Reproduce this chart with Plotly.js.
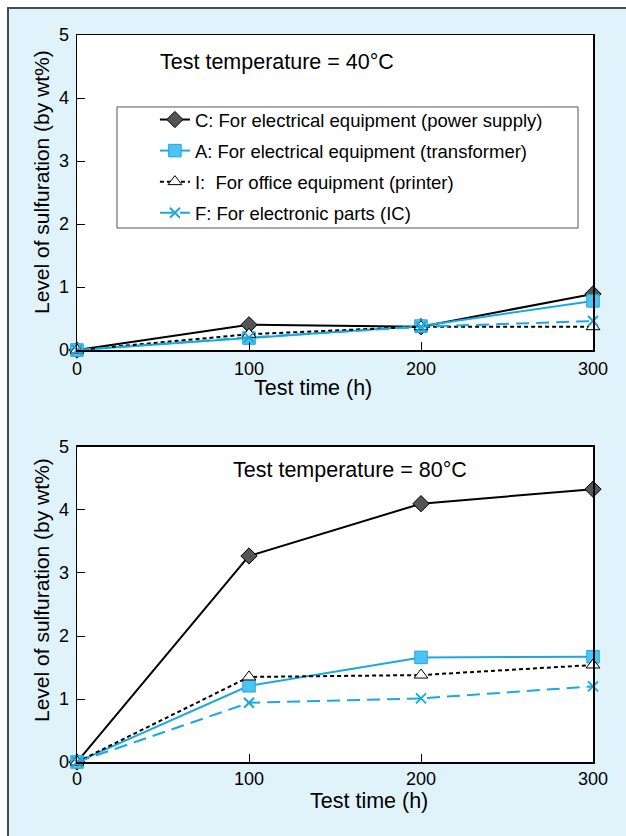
<!DOCTYPE html>
<html>
<head>
<meta charset="utf-8">
<script src="https://cdn.plot.ly/plotly-3.0.1.min.js"></script>
<style>
  html, body { margin: 0; padding: 0; background: #ffffff; }
  #bg { position: absolute; left: 7px; top: 7px; width: 619px; height: 829px;
        background: #e0f3fb; border-left: 2px solid #4a4a4a; border-top: 2px solid #4a4a4a; box-sizing: border-box; }
  #chart { position: absolute; left: 0; top: 0; width: 626px; height: 836px; }
</style>
</head>
<body>
<div id="bg"></div>
<div id="chart"></div>
<script>
// ---- data ----
const testTime = [0, 100, 200, 300];
const seriesNames = [
  "C: For electrical equipment (power supply)",
  "A: For electrical equipment (transformer)",
  "I:\u00a0 For office equipment (printer)",
  "F: For electronic parts (IC)"
];
// 40 °C
const c40 = [0, 0.40, 0.37, 0.89];
const a40 = [0, 0.19, 0.38, 0.78];
const i40 = [0, 0.25, 0.37, 0.37];
const f40 = [0, 0.20, 0.37, 0.46];
// 80 °C
const c80 = [0, 3.27, 4.10, 4.33];
const a80 = [0, 1.21, 1.66, 1.67];
const i80 = [0, 1.35, 1.38, 1.54];
const f80 = [0, 0.94, 1.01, 1.20];
const yTicks = [0, 1, 2, 3, 4, 5];
const xTicks = [0, 100, 200, 300];
const panelLabels = ["Test temperature = 40\u00b0C", "Test temperature = 80\u00b0C"];
const xTitle = "Test time (h)";
const yTitle = "Level of sulfuration (by wt%)";

// ---- styles ----
const CYAN = "#1aa8e0";
const styles = [
  { line: { color: "#000000", width: 2 }, marker: { symbol: "diamond", size: 12.5, color: "#555555", line: { color: "#000000", width: 1 } } },
  { line: { color: CYAN, width: 2 }, marker: { symbol: "square", size: 12.5, color: "#4cc4f2", line: { color: CYAN, width: 1 } } },
  { line: { color: "#000000", width: 2, dash: "4px,3px" }, marker: { symbol: "triangle-up", size: 12, color: "#ffffff", line: { color: "#000000", width: 1 } } },
  { line: { color: CYAN, width: 2, dash: "13px,7px" }, marker: { symbol: "x-thin-open", size: 10, color: CYAN, line: { color: CYAN, width: 2 } } }
];

const series40 = [c40, a40, i40, f40];
const series80 = [c80, a80, i80, f80];
const traces = [];
series40.forEach((ys, k) => {
  traces.push({
    x: testTime, y: ys, name: seriesNames[k], type: "scatter", mode: "lines+markers",
    xaxis: "x", yaxis: "y", legendgroup: "g" + k, showlegend: true, cliponaxis: false,
    line: styles[k].line, marker: styles[k].marker
  });
});
series80.forEach((ys, k) => {
  traces.push({
    x: testTime, y: ys, name: seriesNames[k], type: "scatter", mode: "lines+markers",
    xaxis: "x2", yaxis: "y2", legendgroup: "g" + k, showlegend: false, cliponaxis: false,
    line: styles[k].line, marker: styles[k].marker
  });
});

const FONT = "Liberation Sans, Arial, Helvetica, sans-serif";
function xa(anchor, standoff) {
  return {
    anchor: anchor, domain: [0, 1], range: [0, 300], tickvals: xTicks, ticktext: xTicks.map(String),
    ticks: "inside", ticklen: 8, tickwidth: 1, tickcolor: "#000",
    showline: true, linecolor: "#000", linewidth: 1.5, mirror: true,
    showgrid: false, zeroline: false, tickfont: { size: 18, color: "#000", family: FONT },
    ticklabelstandoff: standoff
  };
}
function ya(anchor, dom) {
  return {
    anchor: anchor, domain: dom, range: [0, 5], tickvals: yTicks, ticktext: yTicks.map(String),
    ticks: "inside", ticklen: 8, tickwidth: 1, tickcolor: "#000",
    showline: true, linecolor: "#000", linewidth: 1.5, mirror: true,
    showgrid: false, zeroline: false, tickfont: { size: 18, color: "#000", family: FONT },
    ticklabelstandoff: 3
  };
}

const layout = {
  width: 626, height: 836,
  margin: { l: 77, r: 33, t: 35, b: 74 },
  paper_bgcolor: "rgba(0,0,0,0)", plot_bgcolor: "#ffffff",
  font: { family: FONT, color: "#000" },
  xaxis: xa("y", 2), yaxis: ya("x", [0.5667, 1]),
  xaxis2: xa("y2", 0), yaxis2: ya("x2", [0, 0.4333]),
  showlegend: true,
  legend: {
    x: 0.151, y: 0.9092, xanchor: "left", yanchor: "top",
    bgcolor: "rgba(0,0,0,0)", borderwidth: 0,
    font: { size: 18.5, family: FONT, color: "#000" },
    traceorder: "grouped", tracegroupgap: 4, itemwidth: 30
  },
  shapes: [
    { type: "rect", xref: "paper", yref: "paper", x0: 0.0775, x1: 0.971, y0: 0.7345, y1: 0.901,
      fillcolor: "#ffffff", line: { color: "#555555", width: 1 }, layer: "below" }
  ],
  annotations: [
    { text: panelLabels[0], xref: "paper", yref: "paper", x: 0.3876, y: 0.963, showarrow: false, xanchor: "center", yanchor: "middle", font: { size: 21.5, family: FONT } },
    { text: panelLabels[1], xref: "paper", yref: "paper", x: 0.529, y: 0.4017, showarrow: false, xanchor: "center", yanchor: "middle", font: { size: 21.5, family: FONT } },
    { text: xTitle, xref: "paper", yref: "paper", x: 0.457, y: 0.5144, showarrow: false, xanchor: "center", yanchor: "middle", font: { size: 21.5, family: FONT } },
    { text: xTitle, xref: "paper", yref: "paper", x: 0.566, y: -0.0535, showarrow: false, xanchor: "center", yanchor: "middle", font: { size: 21.5, family: FONT } },
    { text: yTitle, xref: "paper", yref: "paper", x: -0.0678, y: 0.7978, showarrow: false, textangle: -90, xanchor: "center", yanchor: "middle", font: { size: 21, family: FONT } },
    { text: yTitle, xref: "paper", yref: "paper", x: -0.0678, y: 0.2366, showarrow: false, textangle: -90, xanchor: "center", yanchor: "middle", font: { size: 21, family: FONT } }
  ]
};

Plotly.newPlot("chart", traces, layout, { displayModeBar: false, staticPlot: true });
</script>
</body>
</html>
